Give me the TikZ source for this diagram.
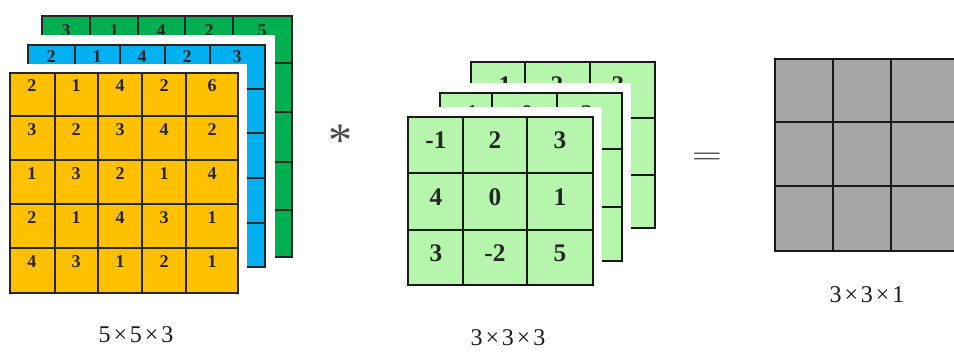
\documentclass[tikz,border=0pt]{standalone}
\usepackage{fontspec}
\setmainfont{Liberation Serif}
\definecolor{corange}{HTML}{FFC000}
\definecolor{cblue}{HTML}{00B0F0}
\definecolor{cgreen}{HTML}{00B050}
\definecolor{ckern}{HTML}{B6F5AC}
\definecolor{cgray}{HTML}{A6A6A6}
\newcommand\tms{\hspace{0.12em}×\hspace{0.12em}}
\tikzset{
  gridline/.style={draw=black!85, line width=0.8pt},
  kernline/.style={draw=black!90, line width=1.1pt},
  outline/.style={draw=black!90, line width=1.3pt},
  num/.style={inner sep=0pt, font=\fontsize{13.5}{13.5}\selectfont\bfseries, text=black!85},
  knum/.style={inner sep=0pt, font=\fontsize{19}{19}\selectfont\bfseries, text=black!85},
  dimlabel/.style={inner sep=0pt, font=\fontsize{18}{18}\selectfont, text=black!90},
  oplabel/.style={inner sep=0pt, text=black!70},
}
\begin{document}
\begin{tikzpicture}[x=0.75pt,y=-0.75pt]
\useasboundingbox (0,0) rectangle (954,352);
\clip (0,0) rectangle (954,352);
% ---------- input volume 5x5x3 ----------
% green (back)
\fill[cgreen] (42,16) rectangle (292,257);
\foreach \x in {90,138,185,233} \draw[gridline] (\x,16) -- (\x,257);
\foreach \y in {63,112,162,210} \draw[gridline] (42,\y) -- (292,\y);
\draw[gridline] (42,16) rectangle (292,257);
\foreach \v [count=\i] in {3,1,4,2,5} {
  \pgfmathsetmacro{\cx}{{66,114,161,209,262}[\i-1]}
  \node[num] (g\i) at (\cx,31) {\v};
}
% blue (middle)
\fill[white] (18,35) rectangle (275,277);
\fill[cblue] (28,45) rectangle (265,267);
\foreach \x in {75,120,165,210} \draw[gridline] (\x,45) -- (\x,267);
\foreach \y in {89,133,178,223} \draw[gridline] (28,\y) -- (265,\y);
\draw[gridline] (28,45) rectangle (265,267);
\foreach \v [count=\i] in {2,1,4,2,3} {
  \pgfmathsetmacro{\cx}{{51,97,142,187,237}[\i-1]}
  \node[num] (b\i) at (\cx,57) {\v};
}
% orange (front)
\fill[white] (1,64) rectangle (247,302);
\fill[corange] (10,73) rectangle (238,293);
\foreach \x in {55,98,142,186} \draw[gridline] (\x,73) -- (\x,293);
\foreach \y in {116,160,204,248} \draw[gridline] (10,\y) -- (238,\y);
\draw[gridline] (10,73) rectangle (238,293);
\foreach \row [count=\r] in {{2,1,4,2,6},{3,2,3,4,2},{1,3,2,1,4},{2,1,4,3,1},{4,3,1,2,1}} {
  \foreach \v [count=\c] in \row {
    \pgfmathsetmacro{\cx}{{32,76,120,164,212}[\c-1]}
    \pgfmathsetmacro{\cy}{{86,130,174,218,262}[\r-1]}
    \node[num] (o\r\c) at (\cx,\cy) {\v};
  }
}
\node[dimlabel] (lin) at (136,335) {5\tms 5\tms 3};
% ---------- operator ----------
\node[oplabel, font=\fontsize{36}{36}\selectfont] (star) at (340,141) {*};
% ---------- kernel 3x3x3 ----------
% back
\fill[ckern] (471,62) rectangle (655,228);
\foreach \x in {525,590} \draw[kernline] (\x,62) -- (\x,228);
\foreach \y in {118,175} \draw[kernline] (471,\y) -- (655,\y);
\draw[outline] (471,62) rectangle (655,228);
\foreach \v [count=\i] in {1,2,3} {
  \pgfmathsetmacro{\cx}{{505,557,618}[\i-1]}
  \node[knum] (kb\i) at (\cx,85) {\v};
}
% middle
\fill[white] (430,83) rectangle (631,270);
\fill[ckern] (440,93) rectangle (622,261);
\foreach \x in {492,557} \draw[kernline] (\x,93) -- (\x,261);
\foreach \y in {149,207} \draw[kernline] (440,\y) -- (622,\y);
\draw[outline] (440,93) rectangle (622,261);
\foreach \v [count=\i] in {1,0,2} {
  \pgfmathsetmacro{\cx}{{472,527,587}[\i-1]}
  \node[knum] (km\i) at (\cx,114) {\v};
}
% front
\fill[white] (398,107) rectangle (602,294);
\fill[ckern] (408,117) rectangle (593,285);
\foreach \x in {463,527} \draw[kernline] (\x,117) -- (\x,285);
\foreach \y in {173,230} \draw[kernline] (408,\y) -- (593,\y);
\draw[outline] (408,117) rectangle (593,285);
\foreach \row [count=\r] in {{-1,2,3},{4,0,1},{3,-2,5}} {
  \foreach \v [count=\c] in \row {
    \pgfmathsetmacro{\cx}{{436,495,560}[\c-1]}
    \pgfmathsetmacro{\cy}{{140,197,253}[\r-1]}
    \node[knum] (k\r\c) at (\cx,\cy) {\v};
  }
}
\node[dimlabel] (lk) at (508,338) {3\tms 3\tms 3};
% ---------- equals ----------
\node[oplabel, font=\fontsize{34}{34}\selectfont] (eq) at (707,159) {\scalebox{1.2}[0.6]{=}};
% ---------- output 3x3x1 ----------
\fill[cgray] (775,59) rectangle (970,251);
\foreach \x in {833,891} \draw[kernline] (\x,59) -- (\x,251);
\foreach \y in {122,186} \draw[kernline] (775,\y) -- (970,\y);
\draw[outline] (775,59) rectangle (970,251);
\node[dimlabel] (lout) at (867,295) {3\tms 3\tms 1};
\end{tikzpicture}
\end{document}
